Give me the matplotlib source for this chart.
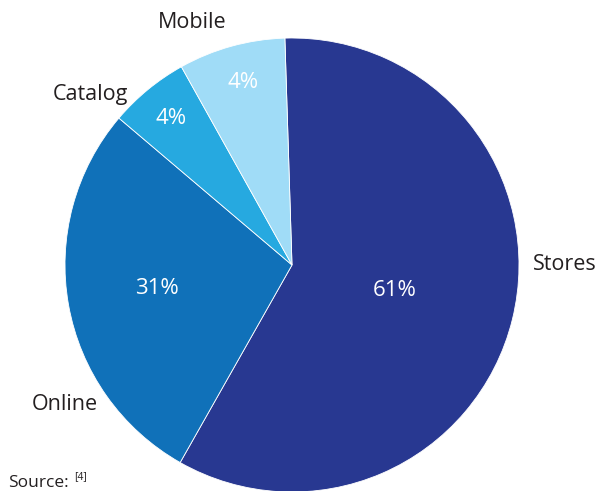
import matplotlib.pyplot as plt

# slice sizes as drawn, and the percentages printed on them
channels = ["Stores", "Online", "Catalog", "Mobile"]
shares = [58.7, 28.0, 5.7, 7.6]
pct_labels = ["61%", "31%", "4%", "4%"]
colors = ["#283891", "#1071b9", "#26a9e0", "#a0dcf7"]

W, H = 598, 491
fig = plt.figure(figsize=(W / 100, H / 100), dpi=100)
ax = fig.add_axes([0, 0, 1, 1])

cx, cy, r = 292, H - 265, 227
ax.pie(shares, colors=colors, startangle=91.8, counterclock=False,
       center=(cx, cy), radius=r, frame=True,
       wedgeprops=dict(edgecolor="white", linewidth=0.6))
ax.set_xlim(0, W)
ax.set_ylim(0, H)
ax.set_aspect("equal")
ax.axis("off")

font = "Open Sans"
# outside names (pixel positions from the top)
name_pos = [(565, 265), (65, 405), (90, 94), (192, 22)]
for name, (x, y) in zip(channels, name_pos):
    ax.text(x, H - y, name, ha="center", va="center", fontsize=15.5,
            color="#231f20", family=font)

pct_pos = [(395, 290), (157, 288), (171, 118), (243, 82)]
for lab, (x, y) in zip(pct_labels, pct_pos):
    ax.text(x, H - y, lab, ha="center", va="center", fontsize=16,
            color="white", family=font)

ax.text(8, H - 483, "Source:", ha="left", va="center", fontsize=12.5,
        color="#231f20", family=font)
ax.text(74, H - 477, "[4]", ha="left", va="center", fontsize=7.5,
        color="#231f20", family=font)

fig.savefig("out.png", dpi=100)
